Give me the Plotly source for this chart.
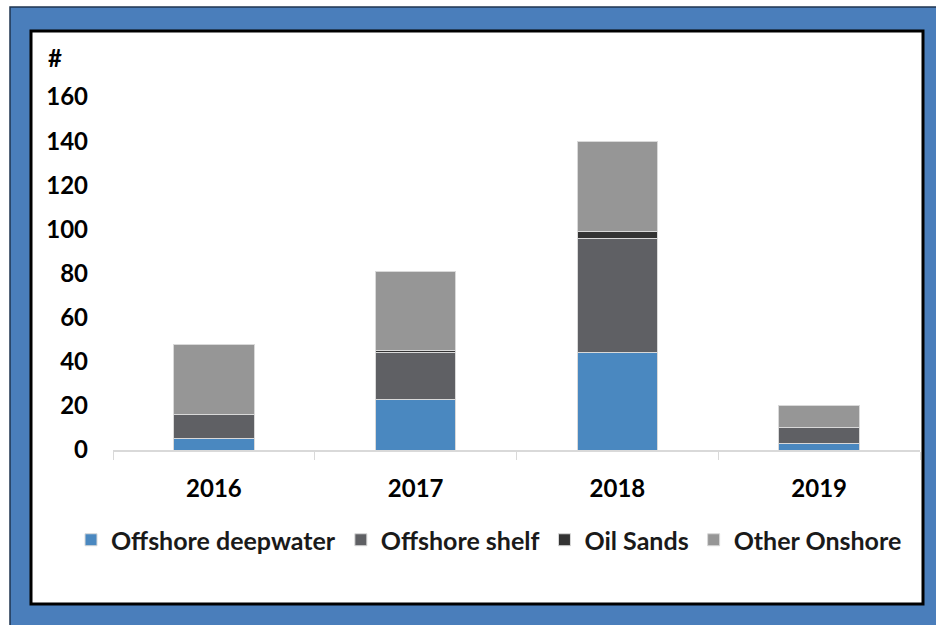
import plotly.graph_objects as go

years = ["2016", "2017", "2018", "2019"]
offshore_deepwater = [5, 23, 44, 3]
offshore_shelf = [11, 21, 52, 7]
oil_sands = [0, 1, 3, 0]
other_onshore = [32, 36, 41, 10]

series = [
    ("Offshore deepwater", offshore_deepwater, "#4a88c0"),
    ("Offshore shelf", offshore_shelf, "#5f6064"),
    ("Oil Sands", oil_sands, "#333333"),
    ("Other Onshore", other_onshore, "#969696"),
]

FONT = "Lato"

fig = go.Figure()
for name, vals, col in series:
    fig.add_trace(go.Bar(
        x=years, y=vals, name=name,
        marker=dict(color=col, line=dict(color="#d9d9d9", width=1)),
    ))

W, H = 936, 625
L, R, T, B = 113, 16, 97, 175
pw, ph = W - L - R, H - T - B

def px(x):
    return (x - L) / pw

def py(y):
    return (H - B - y) / ph

shapes = [
    dict(type="rect", xref="paper", yref="paper", layer="below",
         x0=px(10), x1=px(940), y0=py(630), y1=py(7),
         fillcolor="#4a7ebb", line=dict(color="#1f3550", width=1.5)),
    dict(type="rect", xref="paper", yref="paper", layer="below",
         x0=px(31), x1=px(923), y0=py(604), y1=py(31),
         fillcolor="white", line=dict(color="black", width=3)),
]

fig.update_layout(
    width=W, height=H,
    margin=dict(l=L, r=R, t=T, b=B),
    barmode="stack",
    bargap=0.6,
    paper_bgcolor="white",
    plot_bgcolor="rgba(0,0,0,0)",
    font=dict(family=FONT, color="black"),
    shapes=shapes,
    showlegend=True,
    legend=dict(
        orientation="h", x=px(71), y=py(540), xanchor="left", yanchor="middle",
        font=dict(family=FONT, size=25, color="#1a1a1a", weight="bold"),
        traceorder="normal", itemwidth=30, bgcolor="rgba(0,0,0,0)",
    ),
    xaxis=dict(
        type="category", showgrid=False, showline=True, linecolor="#d9d9d9",
        linewidth=1.5, ticks="outside", tickson="boundaries", ticklen=8,
        tickcolor="#d9d9d9", tickfont=dict(family=FONT, size=24, color="black", weight="bold"),
        ticklabelstandoff=16,
    ),
    yaxis=dict(
        range=[0, 160], dtick=20, showgrid=False, showline=False, zeroline=False,
        tickfont=dict(family=FONT, size=24, color="black", weight="bold"),
        ticklabelstandoff=24,
    ),
    annotations=[dict(
        text="<b>#</b>", xref="paper", yref="paper", x=px(55), y=py(57),
        xanchor="center", yanchor="middle", showarrow=False,
        font=dict(family=FONT, size=24, color="black"),
    )],
)

fig.write_html("out.html")
